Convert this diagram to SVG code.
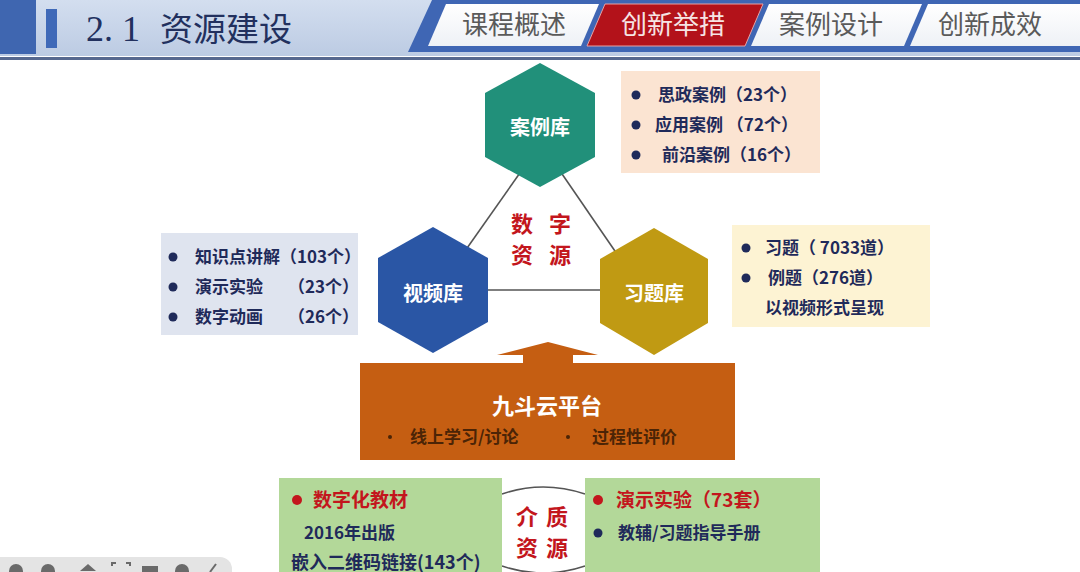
<svg xmlns="http://www.w3.org/2000/svg" width="1080" height="572" viewBox="0 0 1080 572">
<defs>
<linearGradient id="hdr" x1="0" y1="0" x2="0" y2="1"><stop offset="0" stop-color="#d3deef"/><stop offset="1" stop-color="#bccbe3"/></linearGradient>
<linearGradient id="tabw" x1="0" y1="0" x2="0" y2="1"><stop offset="0" stop-color="#ffffff"/><stop offset="1" stop-color="#eef1f6"/></linearGradient>
<style>
.cjk{font-family:"Noto Sans CJK SC","Noto Sans",sans-serif}
.tab{font-size:26px;fill:#5a5a5a;text-anchor:middle}
.info{font-size:17px;font-weight:bold;fill:#1f2a5a}
.hexl{font-size:20px;font-weight:bold;fill:#ffffff;text-anchor:middle;dominant-baseline:central}
.red{fill:#c3161d;font-weight:bold}
.dot{fill:#1f2a5a}
.rdot{fill:#c3161d}
.conn{stroke:#555;stroke-width:1.6;fill:none}
</style>
</defs>
<rect width="1080" height="572" fill="#ffffff"/>
<g id="header">
<rect x="0" y="0" width="1080" height="56" fill="url(#hdr)"/>
<rect x="0" y="0" width="36" height="54" fill="#3f66b0"/>
<rect x="46" y="9" width="11" height="39" fill="#3f69b8"/>
<text x="86" y="41" class="cjk" font-size="33" fill="#22305e"><tspan font-family="Liberation Serif" font-size="36">2. 1</tspan><tspan x="160">资源建设</tspan></text>
<rect x="0" y="57" width="1080" height="3" fill="#56688f"/>
<polygon points="432,0 1080,0 1080,52 408,52" fill="#3f66b4"/>
<polygon points="446,4 599,4 581,46 428,46" fill="url(#tabw)"/>
<polygon points="605,4 763,4 745,46 587,46" fill="#b3121a" stroke="#e8a0a0" stroke-width="1"/>
<polygon points="769,4 922,4 904,46 751,46" fill="url(#tabw)"/>
<polygon points="928,4 1080,4 1080,46 910,46" fill="url(#tabw)"/>
<text x="514" y="34" class="cjk tab">课程概述</text>
<text x="673" y="34" class="cjk tab" style="fill:#f6e4e4">创新举措</text>
<text x="831" y="34" class="cjk tab">案例设计</text>
<text x="990" y="34" class="cjk tab">创新成效</text>
</g>
<g id="connectors">
<line class="conn" x1="522" y1="170" x2="465" y2="251"/>
<line class="conn" x1="560" y1="171" x2="617" y2="254"/>
<line class="conn" x1="480" y1="290" x2="610" y2="290"/>
</g>
<g id="center-label">
<text x="522" y="222" class="cjk red" font-size="22" text-anchor="middle" dominant-baseline="central">数</text>
<text x="560" y="222" class="cjk red" font-size="22" text-anchor="middle" dominant-baseline="central">字</text>
<text x="522" y="253" class="cjk red" font-size="22" text-anchor="middle" dominant-baseline="central">资</text>
<text x="560" y="253" class="cjk red" font-size="22" text-anchor="middle" dominant-baseline="central">源</text>
</g>
<g id="hex-case">
<polygon points="540,63 595,93 595,157 540,187 485,157 485,93" fill="#21907a"/>
<text x="540" y="126" class="cjk hexl">案例库</text>
</g>
<g id="hex-video">
<polygon points="433,227 488,258 488,322 433,353 378,322 378,258" fill="#2a56a5"/>
<text x="433" y="292" class="cjk hexl">视频库</text>
</g>
<g id="hex-exercise">
<polygon points="654,228 708,259 708,323 654,355 600,323 600,259" fill="#c09a13"/>
<text x="654" y="292" class="cjk hexl">习题库</text>
</g>
<g id="box-case">
<rect x="621" y="71" width="199" height="102" fill="#fbe4d2"/>
<circle cx="636" cy="95" r="4.5" class="dot"/>
<circle cx="636" cy="125" r="4.5" class="dot"/>
<circle cx="636" cy="155" r="4.5" class="dot"/>
<text x="658" y="101" class="cjk info">思政案例（23个）</text>
<text x="655" y="131" class="cjk info">应用案例 （72个）</text>
<text x="662" y="161" class="cjk info">前沿案例（16个）</text>
</g>
<g id="box-video">
<rect x="161" y="233" width="197" height="102" fill="#dfe4ef"/>
<circle cx="173" cy="257" r="4.5" class="dot"/>
<circle cx="173" cy="287" r="4.5" class="dot"/>
<circle cx="173" cy="317" r="4.5" class="dot"/>
<text x="195" y="263" class="cjk info">知识点讲解（103个）</text>
<text x="195" y="293" class="cjk info">演示实验</text>
<text x="288" y="293" class="cjk info">（23个）</text>
<text x="195" y="323" class="cjk info">数字动画</text>
<text x="288" y="323" class="cjk info">（26个）</text>
</g>
<g id="box-exercise">
<rect x="732" y="225" width="198" height="102" fill="#fdf3d3"/>
<circle cx="746" cy="248" r="4.5" class="dot"/>
<circle cx="746" cy="278" r="4.5" class="dot"/>
<text x="765" y="254" class="cjk info">习题（ 7033道）</text>
<text x="768" y="284" class="cjk info">例题（276道）</text>
<text x="765" y="314" class="cjk info">以视频形式呈现</text>
</g>
<g id="platform">
<polygon points="548,342 598,355 573,355 573,363 735,363 735,460 360,460 360,363 523,363 523,355 497,355" fill="#c55e12"/>
<text x="547" y="404" class="cjk" font-size="22" font-weight="bold" fill="#ffffff" text-anchor="middle" dominant-baseline="central">九斗云平台</text>
<circle cx="390" cy="437" r="2" fill="#4b2406"/>
<circle cx="568" cy="437" r="2" fill="#4b2406"/>
<text x="410" y="443" class="cjk" font-size="17" font-weight="bold" fill="#4b2406">线上学习/讨论</text>
<text x="592" y="443" class="cjk" font-size="17" font-weight="bold" fill="#4b2406">过程性评价</text>
</g>
<g id="media-center">
<path d="M502,494 Q543,480 585,494 L585,566 Q543,580 502,566 Z" fill="#ffffff"/>
<path d="M502,494 Q543,480 585,494" class="conn" stroke="#888"/>
<path d="M502,566 Q543,580 585,566" class="conn" stroke="#888"/>
<text x="527" y="515" class="cjk red" font-size="22" text-anchor="middle" dominant-baseline="central">介</text>
<text x="557" y="515" class="cjk red" font-size="22" text-anchor="middle" dominant-baseline="central">质</text>
<text x="527" y="546" class="cjk red" font-size="22" text-anchor="middle" dominant-baseline="central">资</text>
<text x="557" y="546" class="cjk red" font-size="22" text-anchor="middle" dominant-baseline="central">源</text>
</g>
<g id="media-left">
<rect x="279" y="478" width="223" height="100" fill="#b3d899"/>
<circle cx="297" cy="500" r="5" class="rdot"/>
<text x="313" y="507" class="cjk red" font-size="19">数字化教材</text>
<text x="304" y="539" class="cjk info">2016年出版</text>
<text x="291" y="569" class="cjk info" style="font-size:18px">嵌入二维码链接(143个)</text>
</g>
<g id="media-right">
<rect x="585" y="478" width="235" height="100" fill="#b3d899"/>
<circle cx="598" cy="500" r="5" class="rdot"/>
<text x="616" y="507" class="cjk red" font-size="19">演示实验（73套）</text>
<circle cx="598" cy="533" r="4.5" class="dot"/>
<text x="618" y="539" class="cjk info">教辅/习题指导手册</text>
</g>
<g id="player-bar">
<rect x="-12" y="557" width="244" height="30" rx="12" fill="#e4e4e4"/>
<circle cx="16" cy="571" r="7" fill="#6a6a6a"/>
<circle cx="48" cy="571" r="7" fill="#6a6a6a"/>
<polygon points="88,564 96,571 80,571" fill="#6a6a6a"/>
<path d="M112,566 v-3 h4 M126,563 h4 v3" stroke="#6a6a6a" stroke-width="2" fill="none"/>
<rect x="142" y="566" width="16" height="8" fill="#6a6a6a"/>
<circle cx="182" cy="571" r="7" fill="#6a6a6a"/>
<path d="M210,572 l6,-8" stroke="#6a6a6a" stroke-width="2"/>
</g>
</svg>
